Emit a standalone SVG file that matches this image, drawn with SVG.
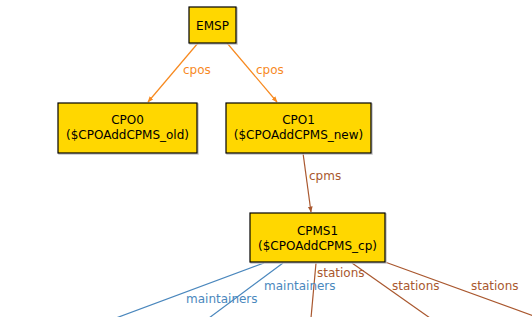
<svg xmlns="http://www.w3.org/2000/svg" width="532" height="317" viewBox="0 0 532 317">
  <style>
    .box { fill: #ffd700; stroke: #000; stroke-width: 1.2; }
    .shadow { fill: none; stroke: #c4c4c4; stroke-width: 1.5; }
    .ntext { font-family: "DejaVu Sans", sans-serif; font-size: 12px; fill: #000; text-anchor: middle; }
    .elabel { font-family: "DejaVu Sans", sans-serif; font-size: 12px; }
    .cpos { stroke: #f7891f; stroke-width: 1.2; fill: none; }
    .sienna { stroke: #a9572e; stroke-width: 1.2; fill: none; }
    .blue { stroke: #4a87bd; stroke-width: 1.2; fill: none; }
  </style>
  <defs>
    <marker id="arrOrange" viewBox="0 0 10 10" refX="9" refY="5" markerWidth="6" markerHeight="6" orient="auto" markerUnits="userSpaceOnUse">
      <path d="M0,1 L10,5 L0,9 z" fill="#f7891f"/>
    </marker>
    <marker id="arrSienna" viewBox="0 0 10 10" refX="9" refY="5" markerWidth="6" markerHeight="6" orient="auto" markerUnits="userSpaceOnUse">
      <path d="M0,1 L10,5 L0,9 z" fill="#a9572e"/>
    </marker>
  </defs>

  <g id="connectors">
    <line class="cpos" x1="198" y1="43" x2="148" y2="102" marker-end="url(#arrOrange)"/>
    <line class="cpos" x1="227" y1="43" x2="277" y2="102" marker-end="url(#arrOrange)"/>
    <line class="sienna" x1="303" y1="153" x2="311" y2="212" marker-end="url(#arrSienna)"/>
    <line class="blue" x1="264" y1="263" x2="116" y2="318"/>
    <line class="blue" x1="283" y1="263" x2="209" y2="318"/>
    <line class="sienna" x1="316" y1="263" x2="311" y2="318"/>
    <line class="sienna" x1="352" y1="263" x2="430" y2="318"/>
    <line class="sienna" x1="385" y1="262" x2="534" y2="316"/>
    <text class="elabel" x="183" y="74" fill="#f7891f">cpos</text>
    <text class="elabel" x="256" y="74" fill="#f7891f">cpos</text>
    <text class="elabel" x="309" y="180" fill="#a9572e">cpms</text>
    <text class="elabel" x="317" y="277" fill="#a9572e">stations</text>
    <text class="elabel" x="264" y="290" fill="#4a87bd">maintainers</text>
    <text class="elabel" x="186" y="303" fill="#4a87bd">maintainers</text>
    <text class="elabel" x="392" y="290" fill="#a9572e">stations</text>
    <text class="elabel" x="471" y="290" fill="#a9572e">stations</text>
  </g>

  <g id="EMSP">
    <rect class="shadow" x="190" y="8" width="47" height="36"/>
    <rect class="box" x="189" y="7" width="47" height="36"/>
    <text class="ntext" x="212.5" y="30">EMSP</text>
  </g>

  <g id="CPO0">
    <rect class="shadow" x="59" y="104" width="139" height="50"/>
    <rect class="box" x="58" y="103" width="139" height="50"/>
    <text class="ntext" x="127.5" y="124">CPO0</text>
    <text class="ntext" x="127.5" y="139">($CPOAddCPMS_old)</text>
  </g>

  <g id="CPO1">
    <rect class="shadow" x="227" y="104" width="145" height="50"/>
    <rect class="box" x="226" y="103" width="145" height="50"/>
    <text class="ntext" x="298.5" y="124">CPO1</text>
    <text class="ntext" x="298.5" y="139">($CPOAddCPMS_new)</text>
  </g>

  <g id="CPMS1">
    <rect class="shadow" x="251" y="214" width="135" height="49"/>
    <rect class="box" x="250" y="213" width="135" height="49"/>
    <text class="ntext" x="317.5" y="235">CPMS1</text>
    <text class="ntext" x="317.5" y="250">($CPOAddCPMS_cp)</text>
  </g>
</svg>
